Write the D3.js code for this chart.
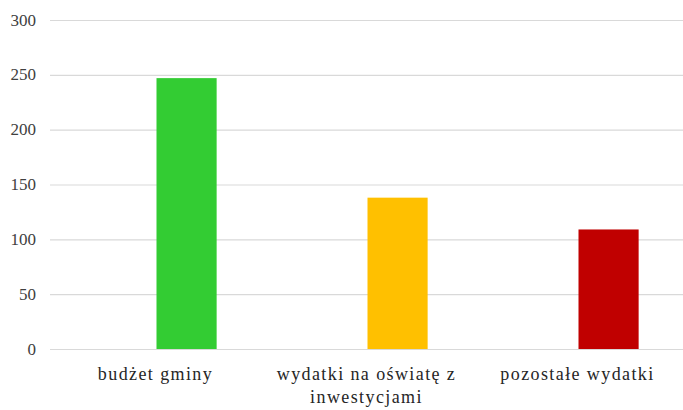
<!DOCTYPE html>
<html>
<head>
<meta charset="utf-8">
<script src="https://cdn.jsdelivr.net/npm/d3@7"></script>
<style>
  body { margin: 0; background: #fff; }
  .chart { position: relative; width: 683px; height: 410px; }
  svg { display: block; position: absolute; left: 0; top: 0; }
  .lbl { position: absolute; font-family: 'Liberation Serif', 'Times New Roman', serif; white-space: nowrap; }
</style>
</head>
<body>
<div class="chart"></div>
<script>
// dane
const categories = ['budżet gminy', 'wydatki na oświatę z inwestycjami', 'pozostałe wydatki'];
const labelLines = [['budżet gminy'], ['wydatki na oświatę z', 'inwestycjami'], ['pozostałe wydatki']];
const values = [247, 138, 109];
const colors = ['#33cc33', '#ffc000', '#c00000'];
const yTicks = [0, 50, 100, 150, 200, 250, 300];

const width = 683, height = 410;
const margin = {top: 20, right: 0, bottom: 61, left: 50};

const chart = d3.select('.chart');
const svg = chart.append('svg')
  .attr('width', width)
  .attr('height', height);

const x = d3.scaleBand()
  .domain(categories)
  .range([margin.left, width - margin.right]);

const y = d3.scaleLinear()
  .domain([0, 300])
  .range([height - margin.bottom, margin.top]);

// linie siatki
svg.selectAll('line.grid')
  .data(yTicks)
  .enter().append('line')
  .attr('class', 'grid')
  .attr('x1', margin.left)
  .attr('x2', width - margin.right)
  .attr('y1', d => y(d) + 0.5)
  .attr('y2', d => y(d) + 0.5)
  .attr('stroke', '#d9d9d9')
  .attr('stroke-width', 1.2);

// słupki (przesunięte w prawo od środka kategorii, jak w Excelu)
const barW = x.bandwidth() * 0.285;
svg.selectAll('rect.bar')
  .data(values)
  .enter().append('rect')
  .attr('class', 'bar')
  .attr('x', (d, i) => x(categories[i]) + x.bandwidth() / 2 + 1)
  .attr('y', d => y(d))
  .attr('width', barW)
  .attr('height', d => y(0) - y(d))
  .attr('fill', (d, i) => colors[i]);

// etykiety osi Y (HTML, bo tekst w SVG nie dostaje kroju szeryfowego)
chart.selectAll('div.ytick')
  .data(yTicks)
  .enter().append('div')
  .attr('class', 'lbl ytick')
  .style('right', (width - 36) + 'px')
  .style('top', d => (y(d) - 8.5) + 'px')
  .style('font-size', '17px')
  .style('line-height', '17px')
  .style('color', '#404040')
  .text(d => d);

// etykiety kategorii
chart.selectAll('div.xlabel')
  .data(labelLines)
  .enter().append('div')
  .attr('class', 'lbl xlabel')
  .style('left', (d, i) => (x(categories[i]) + x.bandwidth() / 2) + 'px')
  .style('top', '363px')
  .style('transform', 'translateX(-50%)')
  .style('text-align', 'center')
  .style('font-size', '18px')
  .style('line-height', '23px')
  .style('letter-spacing', '1.4px')
  .style('color', '#262626')
  .html(d => d.join('<br>'));
</script>
</body>
</html>
